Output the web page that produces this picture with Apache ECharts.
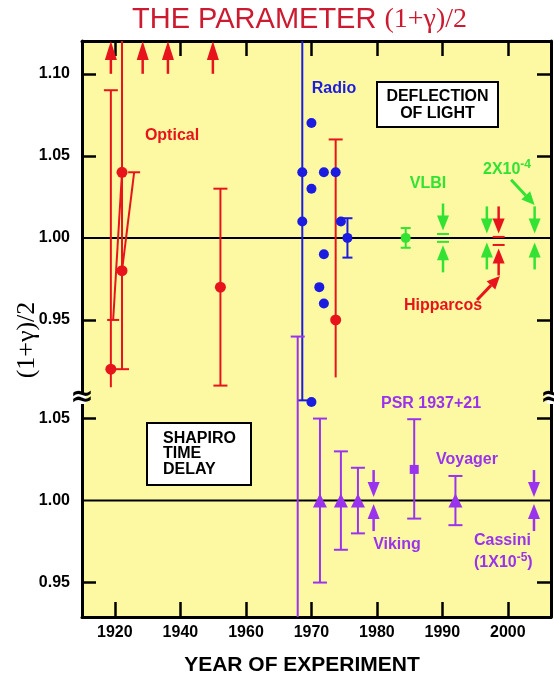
<!DOCTYPE html>
<html><head><meta charset="utf-8">
<script src="https://cdn.jsdelivr.net/npm/echarts@6/dist/echarts.min.js"></script>
<style>html,body{margin:0;padding:0;background:#fff}#c{width:554px;height:682px}</style>
</head><body><div id="c"></div>
<script>
// ---------------- data ----------------
const earlyYears = [1910, 1960];
const lateYears = [1960, 2006.6];
const deflectionRange = [0.90, 1.12];
const delayRange = [0.929, 1.0601];
const deflectionTicks = [0.95, 1.05, 1.10];
const deflectionTickLabels = [0.95, 1.00, 1.05, 1.10];
const delayTicks = [0.95, 1.05];
const delayTickLabels = [0.95, 1.00, 1.05];
const earlyYearTicks = [1920, 1940, 1960];
const lateYearTicks = [1970, 1980, 1990, 2000];
const unity = 1.00;

// Deflection of light: [year, value]; bars: [year, low, high, capLow, capHigh]
const opticalPoints = [[1918.8, 0.92], [1922.2, 1.04], [1922.2, 0.98], [1952.2, 0.97], [1973.7, 0.95]];
const opticalBars = [[1918.8, 0.909, 1.09, 0, 1], [1922.2, 0.92, 1.12, 1, 0], [1952.2, 0.91, 1.03, 1, 1], [1973.7, 0.915, 1.06, 0, 1]];
const opticalSlantBars = [[1922.2, 1.04, 1919.5, 0.95, 0, 1], [1925.9, 1.04, 1922.2, 0.98, 1, 0]];
const opticalOffScale = [[1918.8, 1.10, 1.12], [1928.5, 1.10, 1.12], [1936.2, 1.10, 1.12], [1949.9, 1.10, 1.12]];
const radioPoints = [[1968.6, 1.04], [1968.6, 1.01], [1970.0, 1.07], [1970.0, 1.03], [1970.0, 0.90], [1971.2, 0.97],
  [1971.9, 1.04], [1971.9, 0.99], [1971.9, 0.96], [1973.7, 1.04], [1974.5, 1.01], [1975.5, 1.00]];
const radioBars = [[1968.6, 0.901, 1.12, 1, 0], [1975.5, 0.988, 1.012, 1, 1]];
const vlbiPoints = [[1984.4, 1.00]];
const vlbiBars = [[1984.4, 0.994, 1.006, 1, 1]];
const vlbiBounds = [[1990.1, 0.9976, 1.0024, 1], [1996.8, 0.9994, 1.0006, 0], [2004.1, 0.9994, 1.0006, 0]];
const hipparcosBounds = [[1998.6, 0.9957, 1.0006, 1]];
const vlbiCallout = [[2000.5, 1.0354, 2004.1, 1.0201]];
const hipparcosCallout = [[1995.3, 0.9622, 1998.8, 0.9768]];

// Shapiro time delay
const shapiroPoints = [[1971.3, 1.00], [1974.5, 1.00], [1977.1, 1.00], [1992.0, 1.00]];
const psrPoints = [[1985.7, 1.019]];
const shapiroBars = [[1967.9, 0.929, 1.10, 0, 1], [1971.3, 0.95, 1.05, 1, 1], [1974.5, 0.97, 1.03, 1, 1],
  [1977.1, 0.98, 1.02, 1, 1], [1985.7, 0.989, 1.0496, 1, 1], [1992.0, 0.985, 1.015, 1, 1]];
const shapiroBounds = [[1979.5, 1.0, 1.0, 0], [2004.0, 1.0, 1.0, 0]];

// ---------------- styles ----------------
const RED = '#e8141c', BLUE = '#1c1ce0', GREEN = '#33e233', PURPLE = '#9a33ee';
const BG = '#fdf9a2';
const FONT = '"Liberation Sans", Arial, sans-serif';
const SERIF = '"Liberation Serif", "Times New Roman", serif';

const isEarly = d => d[0] <= 1960;
const early = a => a.filter(isEarly);
const late = a => a.filter(d => !isEarly(d));

function lineEl(x1, y1, x2, y2, color, w) {
  return { type: 'line', shape: { x1, y1, x2, y2 }, style: { stroke: color, lineWidth: w || 2 } };
}
function triEl(pts, color) {
  return { type: 'polygon', shape: { points: pts }, style: { fill: color } };
}

function barSeries(data, gi, color, half) {
  return {
    type: 'custom', xAxisIndex: gi, yAxisIndex: gi, data, clip: false, silent: true, z: 3,
    renderItem(params, api) {
      const x = api.value(0);
      const a = api.coord([x, api.value(2)]), b = api.coord([x, api.value(1)]);
      const ch = [lineEl(a[0], a[1], b[0], b[1], color)];
      if (api.value(4)) ch.push(lineEl(a[0] - half, a[1], a[0] + half, a[1], color));
      if (api.value(3)) ch.push(lineEl(b[0] - half, b[1], b[0] + half, b[1], color));
      return { type: 'group', children: ch };
    }
  };
}
function slantSeries(data, gi, color, half) {
  return {
    type: 'custom', xAxisIndex: gi, yAxisIndex: gi, data, clip: false, silent: true, z: 3,
    renderItem(params, api) {
      const a = api.coord([api.value(0), api.value(1)]), b = api.coord([api.value(2), api.value(3)]);
      const ch = [lineEl(a[0], a[1], b[0], b[1], color)];
      if (api.value(4)) ch.push(lineEl(a[0] - half, a[1], a[0] + half, a[1], color));
      if (api.value(5)) ch.push(lineEl(b[0] - half, b[1], b[0] + half, b[1], color));
      return { type: 'group', children: ch };
    }
  };
}
function upArrowSeries(data, gi, color) {
  return {
    type: 'custom', xAxisIndex: gi, yAxisIndex: gi, data, clip: false, silent: true, z: 3,
    renderItem(params, api) {
      const x = api.value(0);
      const b = api.coord([x, api.value(1)]), t = api.coord([x, api.value(2)]);
      const hh = 19, hw = 6;
      return { type: 'group', children: [
        lineEl(b[0], b[1], t[0], t[1] + hh, color, 2.5),
        triEl([[t[0] - hw, t[1] + hh], [t[0] + hw, t[1] + hh], [t[0], t[1]]], color)
      ] };
    }
  };
}
function boundSeries(data, gi, color) {
  return {
    type: 'custom', xAxisIndex: gi, yAxisIndex: gi, data, clip: false, silent: true, z: 4,
    renderItem(params, api) {
      const x = api.value(0);
      const top = api.coord([x, api.value(2)]), bot = api.coord([x, api.value(1)]);
      const px = top[0], gap = 3.5, len = 27, hh = 15, hw = 6;
      const tT = top[1] - gap, tB = bot[1] + gap;
      const ch = [
        lineEl(px, tT - len, px, tT - hh + 1, color, 2.5),
        triEl([[px - hw, tT - hh], [px + hw, tT - hh], [px, tT]], color),
        lineEl(px, tB + len, px, tB + hh - 1, color, 2.5),
        triEl([[px - hw, tB + hh], [px + hw, tB + hh], [px, tB]], color)
      ];
      if (api.value(3)) {
        ch.push(lineEl(px - 6, top[1], px + 6, top[1], color, 2));
        ch.push(lineEl(px - 6, bot[1], px + 6, bot[1], color, 2));
      }
      return { type: 'group', children: ch };
    }
  };
}
function calloutSeries(data, gi, color) {
  return {
    type: 'custom', xAxisIndex: gi, yAxisIndex: gi, data, clip: false, silent: true, z: 4,
    renderItem(params, api) {
      const a = api.coord([api.value(0), api.value(1)]), b = api.coord([api.value(2), api.value(3)]);
      const dx = b[0] - a[0], dy = b[1] - a[1], L = Math.hypot(dx, dy);
      const ux = dx / L, uy = dy / L, hl = 13, hw = 6;
      const bx = b[0] - ux * hl, by = b[1] - uy * hl;
      return { type: 'group', children: [
        lineEl(a[0], a[1], bx, by, color, 3),
        triEl([[bx - uy * hw, by + ux * hw], [bx + uy * hw, by - ux * hw], [b[0], b[1]]], color)
      ] };
    }
  };
}
function dotSeries(data, gi, color, symbol, size) {
  return { type: 'scatter', xAxisIndex: gi, yAxisIndex: gi, data, symbol, symbolSize: size,
    itemStyle: { color, opacity: 1 }, silent: true, z: 5, clip: false };
}
function unitySeries(range, gi) {
  return { type: 'line', xAxisIndex: gi, yAxisIndex: gi, data: range.map(x => [x, unity]),
    symbol: 'none', lineStyle: { color: '#000', width: 2 }, silent: true, z: 2 };
}

function xAxis(gi, range, ticks, pos, withLabels) {
  return {
    type: 'value', gridIndex: gi, min: range[0], max: range[1], position: pos,
    axisLine: { show: true, onZero: false, lineStyle: { color: '#000', width: 3 } },
    axisTick: { show: true, inside: true, length: 15, customValues: ticks, lineStyle: { color: '#000', width: 2.5 } },
    axisLabel: { show: withLabels, customValues: ticks, margin: 8, color: '#000', fontWeight: 'bold', fontSize: 16,
      fontFamily: FONT, formatter: v => String(Math.round(v)) },
    splitLine: { show: false }
  };
}
function yAxis(gi, range, ticks, labels, pos) {
  return {
    type: 'value', gridIndex: gi, min: range[0], max: range[1], position: pos,
    axisLine: { show: true, onZero: false, lineStyle: { color: '#000', width: 3 } },
    axisTick: { show: true, inside: true, length: 14, customValues: ticks, lineStyle: { color: '#000', width: 2.5 } },
    axisLabel: { show: !!labels, customValues: labels || ticks, margin: 12, color: '#000', fontWeight: 'bold', fontSize: 16,
      fontFamily: FONT, formatter: v => Number(v).toFixed(2) },
    splitLine: { show: false }
  };
}

function txt(text, x, y, color, opts) {
  opts = opts || {};
  return { type: 'text', x, y, z: 100, silent: true, rotation: opts.rotation || 0,
    style: Object.assign({ text, fill: color, font: opts.font || ('bold 16px ' + FONT),
      align: opts.align || 'center', verticalAlign: 'middle', textAlign: opts.align || 'center', textVerticalAlign: 'middle' }, opts.style || {}) };
}

const grids = [
  { left: 82, top: 41, width: 164, height: 361 },
  { left: 246, top: 41, width: 305, height: 361 },
  { left: 82, top: 402, width: 164, height: 215 },
  { left: 246, top: 402, width: 305, height: 215 }
].map(g => Object.assign(g, { show: true, backgroundColor: BG, borderWidth: 0, containLabel: false }));

const option = {
  animation: false,
  grid: grids,
  xAxis: [
    xAxis(0, earlyYears, earlyYearTicks, 'top', false),
    xAxis(1, lateYears, lateYearTicks, 'top', false),
    xAxis(2, earlyYears, earlyYearTicks, 'bottom', true),
    xAxis(3, lateYears, lateYearTicks, 'bottom', true)
  ],
  yAxis: [
    yAxis(0, deflectionRange, deflectionTicks, deflectionTickLabels, 'left'),
    yAxis(1, deflectionRange, deflectionTicks, null, 'right'),
    yAxis(2, delayRange, delayTicks, delayTickLabels, 'left'),
    yAxis(3, delayRange, delayTicks, null, 'right')
  ],
  series: [
    unitySeries(earlyYears, 0), unitySeries(lateYears, 1), unitySeries(earlyYears, 2), unitySeries(lateYears, 3),
    barSeries(early(opticalBars), 0, RED, 7),
    barSeries(late(opticalBars), 1, RED, 7),
    slantSeries(opticalSlantBars, 0, RED, 6),
    upArrowSeries(opticalOffScale, 0, RED),
    dotSeries(early(opticalPoints), 0, RED, 'circle', 11),
    dotSeries(late(opticalPoints), 1, RED, 'circle', 11),
    barSeries(radioBars, 1, BLUE, 5),
    dotSeries(radioPoints, 1, BLUE, 'circle', 10),
    barSeries(vlbiBars, 1, GREEN, 5),
    dotSeries(vlbiPoints, 1, GREEN, 'circle', 10),
    boundSeries(vlbiBounds, 1, GREEN),
    boundSeries(hipparcosBounds, 1, RED),
    calloutSeries(vlbiCallout, 1, GREEN),
    calloutSeries(hipparcosCallout, 1, RED),
    barSeries(shapiroBars, 3, PURPLE, 7),
    dotSeries(shapiroPoints, 3, PURPLE, 'triangle', 14),
    dotSeries(psrPoints, 3, PURPLE, 'rect', 9),
    boundSeries(shapiroBounds, 3, PURPLE)
  ],
  graphic: [
    // title
    { type: 'text', x: 132, y: 20, z: 100, silent: true,
      style: { text: '{a|THE PARAMETER }{b|(1+γ)/2}', align: 'left', verticalAlign: 'middle', textAlign: 'left', textVerticalAlign: 'middle',
        rich: { a: { fontFamily: FONT, fontSize: 29, fill: '#cc1a30', color: '#cc1a30' },
                b: { fontFamily: SERIF, fontSize: 28, fill: '#cc1a30', color: '#cc1a30' } } } },
    // axis names
    txt('(1+γ)/2', 27, 340, '#000', { font: '26px ' + SERIF, rotation: Math.PI / 2 }),
    txt('YEAR OF EXPERIMENT', 302, 665, '#000', { font: 'bold 21px ' + FONT }),
    // boxes
    { type: 'rect', z: 99, silent: true, shape: { x: 377, y: 82, width: 121, height: 45 }, style: { fill: '#fff', stroke: '#000', lineWidth: 2 } },
    txt('DEFLECTION', 437.5, 97, '#000'),
    txt('OF LIGHT', 437.5, 114, '#000'),
    { type: 'rect', z: 99, silent: true, shape: { x: 147, y: 423, width: 104, height: 62 }, style: { fill: '#fff', stroke: '#000', lineWidth: 2 } },
    txt('SHAPIRO', 163, 439, '#000', { align: 'left' }),
    txt('TIME', 163, 454, '#000', { align: 'left' }),
    txt('DELAY', 163, 470, '#000', { align: 'left' }),
    // labels
    txt('Optical', 172, 136, RED),
    txt('Radio', 334, 89, BLUE),
    txt('VLBI', 428, 184, GREEN),
    { type: 'text', x: 483, y: 170, z: 100, silent: true,
      style: { text: '{a|2X10}{b|-4}', align: 'left', verticalAlign: 'middle', textAlign: 'left', textVerticalAlign: 'middle',
        rich: { a: { font: 'bold 16px ' + FONT, fill: GREEN, color: GREEN },
                b: { font: 'bold 12px ' + FONT, fill: GREEN, color: GREEN, padding: [0, 0, 10, 0] } } } },
    txt('Hipparcos', 443, 306, RED),
    txt('PSR 1937+21', 431, 404, PURPLE),
    txt('Voyager', 467, 460, PURPLE),
    txt('Viking', 397, 545, PURPLE),
    txt('Cassini', 474, 541, PURPLE, { align: 'left' }),
    { type: 'text', x: 474, y: 563, z: 100, silent: true,
      style: { text: '{a|(1X10}{b|-5}{a|)}', align: 'left', verticalAlign: 'middle', textAlign: 'left', textVerticalAlign: 'middle',
        rich: { a: { font: 'bold 16px ' + FONT, fill: PURPLE, color: PURPLE },
                b: { font: 'bold 12px ' + FONT, fill: PURPLE, color: PURPLE, padding: [0, 0, 10, 0] } } } },
    // axis break marks
    { type: 'rect', z: 100, silent: true, shape: { x: 78, y: 394, width: 8, height: 10 }, style: { fill: '#fff' } },
    txt('≈', 82, 398, '#000', { font: 'bold 28px "DejaVu Sans"' }),
    { type: 'rect', z: 100, silent: true, shape: { x: 547, y: 394, width: 8, height: 10 }, style: { fill: '#fff' } },
    txt('≈', 552, 398, '#000', { font: 'bold 28px "DejaVu Sans"' })
  ]
};

const chart = echarts.init(document.getElementById('c'), null, { renderer: 'canvas' });
chart.setOption(option);
</script>
</body></html>
